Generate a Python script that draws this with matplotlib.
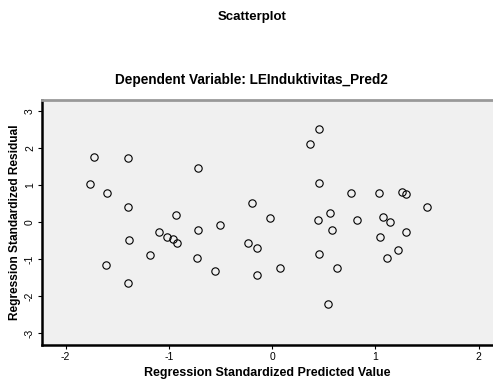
import matplotlib
matplotlib.use("Agg")
import matplotlib.pyplot as plt

# standardized predicted value vs standardized residual
pred = [-1.73, -1.40, -0.72, -1.76, -1.60, -1.40, -0.93, -1.39, -1.10, -1.02,
        -0.96, -0.92, -1.18, -1.61, -1.40, -0.72, -0.50, -0.19, -0.02, -0.23,
        -0.15, -0.73, -0.55, -0.15, 0.08, 0.45, 0.37, 0.45, 0.44, 0.56,
        0.58, 0.45, 0.63, 0.54, 0.76, 1.04, 1.26, 1.30, 1.50, 0.82,
        1.07, 1.14, 1.30, 1.05, 1.22, 1.11]
resid = [1.77, 1.74, 1.47, 1.04, 0.79, 0.41, 0.19, -0.49, -0.27, -0.41,
         -0.46, -0.55, -0.90, -1.17, -1.64, -0.22, -0.08, 0.52, 0.11, -0.55,
         -0.71, -0.98, -1.31, -1.44, -1.23, 2.51, 2.10, 1.06, 0.05, 0.25,
         -0.22, -0.85, -1.25, -2.21, 0.79, 0.79, 0.82, 0.76, 0.41, 0.05,
         0.14, 0.00, -0.27, -0.41, -0.76, -0.98]

xticks = [-2, -1, 0, 1, 2]
yticks = [-3, -2, -1, 0, 1, 2, 3]

plt.rcParams['font.family'] = ['Liberation Sans', 'DejaVu Sans']

fig = plt.figure(figsize=(4.93, 3.85), dpi=100)
ax = fig.add_axes([0.085, 0.104, 0.915, 0.636])
ax.set_facecolor('#f0f0f0')

ax.plot(pred, resid, linestyle='none', marker='o', markersize=5.3,
        markerfacecolor='none', markeredgecolor='black', markeredgewidth=0.8)

ax.set_xlim(-2.23, 2.14)
ax.set_ylim(-3.32, 3.30)
ax.set_xticks(xticks)
ax.set_yticks(yticks)
ax.set_xticklabels([str(t) for t in xticks], fontsize=7.5)
ax.set_yticklabels([str(t) for t in yticks], fontsize=7.5, rotation=90, va='center')
ax.tick_params(length=3, width=0.8, pad=2)

ax.spines['right'].set_visible(False)
ax.spines['top'].set_color('#999999')
ax.spines['top'].set_linewidth(2)
ax.spines['left'].set_linewidth(1.8)
ax.spines['bottom'].set_linewidth(1.8)

ax.set_xlabel('Regression Standardized Predicted Value', fontsize=9, fontweight='bold', labelpad=4)
ax.set_ylabel('Regression Standardized Residual', fontsize=8.6, fontweight='bold', labelpad=3)

fig.text(0.512, 0.956, 'Scatterplot', ha='center', va='center', fontsize=9.5, fontweight='bold')
fig.text(0.51, 0.792, 'Dependent Variable: LEInduktivitas_Pred2', ha='center', va='center',
         fontsize=9.8, fontweight='bold')

fig.savefig('out.png', dpi=100)
